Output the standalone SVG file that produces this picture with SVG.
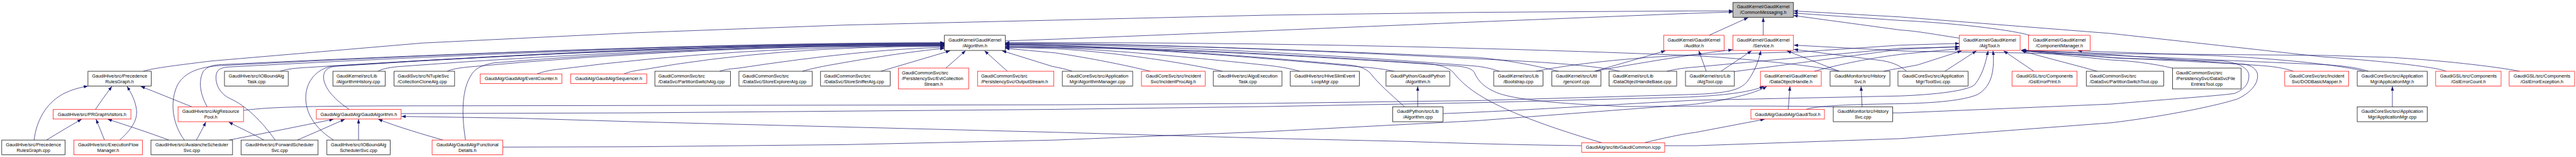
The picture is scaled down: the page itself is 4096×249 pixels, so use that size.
<svg xmlns="http://www.w3.org/2000/svg" width="4096" height="249" viewBox="0 0 4096 249">
<defs>
<style>
.n rect{fill:#fff;stroke:#000;stroke-width:1.3}
.n.r rect{stroke:#f00}
.n.g rect{fill:#bfbfbf}
text{font-family:"Liberation Sans",Arial,Helvetica,sans-serif;font-size:13.2px;fill:#000}
.m{text-anchor:middle}
.e path{fill:none;stroke:#191970;stroke-width:1.3;marker-end:url(#ah)}
</style>
<marker id="ah" markerUnits="userSpaceOnUse" viewBox="0 0 12 9" markerWidth="12" markerHeight="9" refX="12" refY="4.5" orient="auto"><path d="M0,0 L12,4.5 L0,9 z" fill="#191970"/></marker>
</defs>
<rect width="4096" height="249" fill="#fff"/>
<g transform="scale(0.5595)">
<g id="edges" class="e">
<path d="M271,310.5 C285,290 302,266 318,245"/>
<path d="M97,397 C103,345 128,295 178,267 C205,253 228,248 250,244"/>
<path d="M132,397 C165,377 200,356 232,338"/>
<path d="M297,397 C290,380 282,360 273,338"/>
<path d="M340,397 C365,375 392,345 388,312 C385,285 372,262 361,245"/>
<path d="M480,397 C420,375 360,355 306,338"/>
<path d="M546,303 C500,285 445,262 400,245"/>
<path d="M558,397 C568,380 577,362 585,346"/>
<path d="M750,397 C720,380 680,362 650,346"/>
<path d="M651,397 C750,378 850,358 948,338"/>
<path d="M845,397 C890,378 935,358 980,338"/>
<path d="M1019,397 L1019,338"/>
<path d="M1259,397 C1210,383 1130,360 1075,338"/>
<path d="M524,397 C492,355 480,290 505,240 C525,205 565,190 625,186 Q1900,121 2684,121"/>
<path d="M589,303 C570,270 562,230 578,202 C590,188 605,184 630,183 Q1900,122 2684,122"/>
<path d="M782,397 C745,345 700,300 655,280 C625,266 612,240 614,215 C616,198 625,192 648,190 Q1900,123 2684,123"/>
<path d="M948,397 C905,370 870,330 869,280 C868,240 890,200 940,188 Q1900,124 2684,124"/>
<path d="M993,310.5 C955,285 925,255 920,225 C918,205 925,192 952,188 Q1900,125 2684,125"/>
<path d="M796,202 C810,197 830,194 860,192 Q1900,126 2684,126"/>
<path d="M1074,202 C1085,196 1100,192 1130,189 Q1950,127 2684,127"/>
<path d="M1271,202 C1285,196 1300,193 1330,190 Q2000,128 2684,128"/>
<path d="M1323,397 C1312,330 1312,260 1335,220 C1345,200 1360,185 1406,178 Q2000,129 2684,129"/>
<path d="M1526,209.5 C1545,203 1560,199 1590,196 Q2100,130 2684,130"/>
<path d="M1773,209.5 C1790,203 1805,200 1830,197 Q2200,131 2684,131"/>
<path d="M2045,202 C2060,197 2075,195 2100,193 Q2450,140 2684,134"/>
<path d="M2280,202 C2300,196 2320,192 2350,186 Q2550,150 2684,137"/>
<path d="M2503,202 L2700,144"/>
<path d="M2688,193 L2744,144"/>
<path d="M2863,202 L2798,144"/>
<path d="M3047,202 C3030,196 3010,192 2990,188 L2848,144"/>
<path d="M3269,202 C3200,185 3100,165 3000,150 L2857,137"/>
<path d="M3474,202 C3400,185 3200,150 3000,138 L2857,134"/>
<path d="M3694,202 C3660,192 3620,187 3590,184 Q3100,132 2857,131"/>
<path d="M3962,202 C3930,195 3900,192 3870,190 Q3200,128 2857,128"/>
<path d="M3992,303 C3950,265 3915,235 3895,208 C3880,193 3860,186 3830,184 Q3200,127 2857,127"/>
<path d="M4261,202 C4240,195 4220,190 4190,187 Q3400,126 2857,126"/>
<path d="M4429,202 C4380,190 4300,172 4200,163 Q3300,123 2857,124"/>
<path d="M4603,202 C4550,190 4450,178 4200,167 Q3300,121 2857,123"/>
<path d="M4552,404.5 C4450,375 4330,335 4250,295 C4180,260 4150,230 4130,205 C4115,190 4090,183 4050,180 Q3300,129 2857,132"/>
<path d="M5212,303 C5100,300 4900,300 4620,302 C4450,295 4320,285 4260,265 C4220,250 4200,230 4190,205 C4180,192 4160,188 4120,186 Q3300,130 2857,135"/>
<path d="M5227,202 C5150,185 4950,165 4800,157 Q3800,118 2857,121"/>
<path d="M2857,116 L3000,111 L3600,87 L4200,62 L4800,38 L4925,34"/>
<path d="M407,202 C430,195 460,190 600,173 L1200,122 L1800,93 L2400,71 L3000,57 L3600,43 L4200,35 L4800,31 L4925,31"/>
<path d="M4857,100 L4968,50"/>
<path d="M5011,100 L5011,50"/>
<path d="M5568,108 C5500,98 5450,88 5400,85 L5097,44"/>
<path d="M5768,100 C5700,80 5500,62 5400,58 L5097,37"/>
<path d="M6952,202 C6930,192 6800,175 6600,161 L6000,95 L5400,48 L5097,31"/>
<path d="M4532,202 L4733,144"/>
<path d="M4849,202 L4828,144"/>
<path d="M692,313 C760,304 850,300 1220,300 L3000,297 L3600,293 L4200,285 L4800,268 C4910,265 4945,255 4965,232 C4985,205 4998,175 5004,144"/>
<path d="M4532,202 C4650,180 4800,155 4924,141"/>
<path d="M4891,202 L4978,144"/>
<path d="M5227,202 L5078,144"/>
<path d="M5418,202 C5405,190 5385,178 5350,172 L5098,140"/>
<path d="M6731,202 C6700,192 6660,186 6600,183 L6000,157 L5741,150 L5420,145 L5098,128"/>
<path d="M4928,203 L5400,140 L5568,132"/>
<path d="M4365,202 C4450,185 4600,165 4820,155 L5120,147 L5400,128 L5568,123"/>
<path d="M4737,202 C4760,196 4790,192 4820,190 L5400,137 L5568,133"/>
<path d="M5156,202 C5200,190 5300,165 5420,152 L5568,138"/>
<path d="M5353,202 C5380,196 5420,190 5450,184 L5575,144"/>
<path d="M5527,202 L5617,144"/>
<path d="M5780,202 L5694,144"/>
<path d="M4101,322 C4300,315 4600,295 4820,284 L5400,272 C5500,268 5590,258 5612,240 C5632,215 5642,185 5650,144"/>
<path d="M5132,310.5 C5160,300 5250,296 5400,294 C5500,292 5580,285 5620,268 C5655,248 5670,210 5664,144"/>
<path d="M5960,202 C5900,185 5800,160 5745,144"/>
<path d="M6174,193 C6120,180 6050,172 6000,170 L5747,144"/>
<path d="M6518,202 C6490,193 6470,190 6440,187 L6000,155 L5746,143"/>
<path d="M7161,202 C7100,190 6950,172 6800,163 L6600,157 L6000,152 L5744,142"/>
<path d="M5379,320 L5400,320 L6000,295 C6150,282 6300,272 6350,265 C6380,253 6393,235 6391,210 C6385,190 6360,178 6316,173 L6020,165 L5745,143"/>
<path d="M4731,413 L4820,413 L5400,393 L6000,348 C6150,330 6300,300 6360,280 C6405,258 6420,230 6415,207 C6410,195 6400,185 6376,182 L6000,163 L5744,142"/>
<path d="M1140,322 L1800,320 L2400,315 L3000,310 L3600,302 L4200,291 L4800,275 C4900,270 4970,262 5013,245"/>
<path d="M1429,417 L1800,416 L2400,410 L3000,397 L3600,373 L4200,342 L4820,295 C4900,285 4990,265 5021,245"/>
<path d="M5082,310.5 L5087,245"/>
<path d="M4674,404.5 C4720,393 4780,380 4820,375 L5015,338"/>
<path d="M4495,413 C4350,411 4200,408 4000,401 L3600,392 L3000,375 L2400,360 L1800,345 L1470,335 L1141,330"/>
<path d="M4029,303 L4029,245"/>
<path d="M5292,303 L5289,245"/>
<path d="M6799,303 L6799,245"/>
<path d="M6720,202 C6650,185 6500,168 6300,158 L5905,144"/>
</g>
<g id="n_cm" class="n g"><rect x="4925" y="7" width="172" height="42"/><text class="m"><tspan x="5011" y="24">GaudiKernel/GaudiKernel</tspan><tspan x="5011" y="40">/CommonMessaging.h</tspan></text></g>
<g id="n_alg" class="n"><rect x="2684" y="100" width="173" height="43"/><text class="m"><tspan x="2770.5" y="117.5">GaudiKernel/GaudiKernel</tspan><tspan x="2770.5" y="133.5">/Algorithm.h</tspan></text></g>
<g id="n_aud" class="n r"><rect x="4728" y="100" width="172" height="43"/><text class="m"><tspan x="4814" y="117.5">GaudiKernel/GaudiKernel</tspan><tspan x="4814" y="133.5">/Auditor.h</tspan></text></g>
<g id="n_svc" class="n r"><rect x="4925" y="100" width="172" height="43"/><text class="m"><tspan x="5011" y="117.5">GaudiKernel/GaudiKernel</tspan><tspan x="5011" y="133.5">/Service.h</tspan></text></g>
<g id="n_at" class="n r"><rect x="5568" y="100" width="173" height="43"/><text class="m"><tspan x="5654.5" y="117.5">GaudiKernel/GaudiKernel</tspan><tspan x="5654.5" y="133.5">/AlgTool.h</tspan></text></g>
<g id="n_cmgr" class="n r"><rect x="5765" y="100" width="175" height="43"/><text class="m"><tspan x="5852.5" y="117.5">GaudiKernel/GaudiKernel</tspan><tspan x="5852.5" y="133.5">/ComponentManager.h</tspan></text></g>
<g id="n_prgh" class="n"><rect x="250" y="202" width="180" height="42"/><text class="m"><tspan x="340" y="219.5">GaudiHive/src/Precedence</tspan><tspan x="340" y="235.5">RulesGraph.h</tspan></text></g>
<g id="n_iobtask" class="n"><rect x="638" y="202" width="181" height="42"/><text class="m"><tspan x="728.5" y="219.5">GaudiHive/src/IOBoundAlg</tspan><tspan x="728.5" y="235.5">Task.cpp</tspan></text></g>
<g id="n_alghist" class="n"><rect x="946" y="202" width="149" height="42"/><text><tspan x="956" y="219.5">GaudiKernel/src/Lib</tspan><tspan x="956" y="235.5">/AlgorithmHistory.cpp</tspan></text></g>
<g id="n_collclone" class="n"><rect x="1120" y="202" width="172" height="42"/><text><tspan x="1130" y="219.5">GaudiSvc/src/NTupleSvc</tspan><tspan x="1130" y="235.5">/CollectionCloneAlg.cpp</tspan></text></g>
<g id="n_evtcounter" class="n r"><rect x="1365" y="209.5" width="232" height="27"/><text class="m" x="1481" y="227.5">GaudiAlg/GaudiAlg/EventCounter.h</text></g>
<g id="n_sequencer" class="n r"><rect x="1622" y="209.5" width="216" height="27"/><text class="m" x="1730" y="227.5">GaudiAlg/GaudiAlg/Sequencer.h</text></g>
<g id="n_psalg" class="n"><rect x="1861" y="202" width="215" height="42"/><text><tspan x="1871" y="219.5">GaudiCommonSvc/src</tspan><tspan x="1871" y="235.5">/DataSvc/PartitionSwitchAlg.cpp</tspan></text></g>
<g id="n_sealg" class="n"><rect x="2100" y="202" width="208" height="42"/><text><tspan x="2110" y="219.5">GaudiCommonSvc/src</tspan><tspan x="2110" y="235.5">/DataSvc/StoreExplorerAlg.cpp</tspan></text></g>
<g id="n_ssalg" class="n"><rect x="2332" y="202" width="198" height="42"/><text><tspan x="2342" y="219.5">GaudiCommonSvc/src</tspan><tspan x="2342" y="235.5">/DataSvc/StoreSnifferAlg.cpp</tspan></text></g>
<g id="n_evtcoll" class="n r"><rect x="2553" y="193" width="200" height="59"/><text><tspan x="2563" y="211">GaudiCommonSvc/src</tspan><tspan x="2563" y="227">/PersistencySvc/EvtCollection</tspan><tspan x="2653" y="243" text-anchor="middle">Stream.h</tspan></text></g>
<g id="n_outstream" class="n r"><rect x="2778" y="202" width="217" height="42"/><text><tspan x="2788" y="219.5">GaudiCommonSvc/src</tspan><tspan x="2788" y="235.5">/PersistencySvc/OutputStream.h</tspan></text></g>
<g id="n_algmgr" class="n"><rect x="3019" y="202" width="200" height="42"/><text class="m"><tspan x="3119" y="219.5">GaudiCoreSvc/src/Application</tspan><tspan x="3119" y="235.5">Mgr/AlgorithmManager.cpp</tspan></text></g>
<g id="n_incproc" class="n r"><rect x="3244" y="202" width="181" height="42"/><text class="m"><tspan x="3334.5" y="219.5">GaudiCoreSvc/src/Incident</tspan><tspan x="3334.5" y="235.5">Svc/IncidentProcAlg.h</tspan></text></g>
<g id="n_algoexec" class="n"><rect x="3448" y="202" width="195" height="42"/><text class="m"><tspan x="3545.5" y="219.5">GaudiHive/src/AlgoExecution</tspan><tspan x="3545.5" y="235.5">Task.cpp</tspan></text></g>
<g id="n_hiveslim" class="n"><rect x="3667" y="202" width="196" height="42"/><text class="m"><tspan x="3765" y="219.5">GaudiHive/src/HiveSlimEvent</tspan><tspan x="3765" y="235.5">LoopMgr.cpp</tspan></text></g>
<g id="n_gpyalgh" class="n"><rect x="3939" y="202" width="181" height="42"/><text class="m"><tspan x="4029.5" y="219.5">GaudiPython/GaudiPython</tspan><tspan x="4029.5" y="235.5">/Algorithm.h</tspan></text></g>
<g id="n_bootstrap" class="n"><rect x="4245" y="202" width="140" height="42"/><text class="m"><tspan x="4315" y="219.5">GaudiKernel/src/Lib</tspan><tspan x="4315" y="235.5">/Bootstrap.cpp</tspan></text></g>
<g id="n_genconf" class="n"><rect x="4410" y="202" width="140" height="42"/><text class="m"><tspan x="4480" y="219.5">GaudiKernel/src/Util</tspan><tspan x="4480" y="235.5">/genconf.cpp</tspan></text></g>
<g id="n_dohbase" class="n"><rect x="4573" y="202" width="192" height="42"/><text><tspan x="4583" y="219.5">GaudiKernel/src/Lib</tspan><tspan x="4583" y="235.5">/DataObjectHandleBase.cpp</tspan></text></g>
<g id="n_algtoolcpp" class="n"><rect x="4790" y="202" width="139" height="42"/><text class="m"><tspan x="4859.5" y="219.5">GaudiKernel/src/Lib</tspan><tspan x="4859.5" y="235.5">/AlgTool.cpp</tspan></text></g>
<g id="n_doh" class="n r"><rect x="5003" y="202" width="173" height="42"/><text class="m"><tspan x="5089.5" y="219.5">GaudiKernel/GaudiKernel</tspan><tspan x="5089.5" y="235.5">/DataObjectHandle.h</tspan></text></g>
<g id="n_histsvch" class="n"><rect x="5201" y="202" width="170" height="42"/><text class="m"><tspan x="5286" y="219.5">GaudiMonitor/src/History</tspan><tspan x="5286" y="235.5">Svc.h</tspan></text></g>
<g id="n_toolsvc" class="n"><rect x="5394" y="202" width="199" height="42"/><text class="m"><tspan x="5493.5" y="219.5">GaudiCoreSvc/src/Application</tspan><tspan x="5493.5" y="235.5">Mgr/ToolSvc.cpp</tspan></text></g>
<g id="n_gslprint" class="n r"><rect x="5718" y="202" width="185" height="42"/><text class="m"><tspan x="5810.5" y="219.5">GaudiGSL/src/Components</tspan><tspan x="5810.5" y="235.5">/GslErrorPrint.h</tspan></text></g>
<g id="n_pstool" class="n"><rect x="5929" y="202" width="220" height="42"/><text><tspan x="5939" y="219.5">GaudiCommonSvc/src</tspan><tspan x="5939" y="235.5">/DataSvc/PartitionSwitchTool.cpp</tspan></text></g>
<g id="n_dsfe" class="n"><rect x="6174" y="193" width="195" height="59"/><text><tspan x="6184" y="211">GaudiCommonSvc/src</tspan><tspan x="6184" y="227">/PersistencySvc/DataSvcFile</tspan><tspan x="6271.5" y="243" text-anchor="middle">EntriesTool.cpp</tspan></text></g>
<g id="n_dod" class="n r"><rect x="6493" y="202" width="182" height="42"/><text class="m"><tspan x="6584" y="219.5">GaudiCoreSvc/src/Incident</tspan><tspan x="6584" y="235.5">Svc/DODBasicMapper.h</tspan></text></g>
<g id="n_appmgrh" class="n"><rect x="6699" y="202" width="199" height="42"/><text class="m"><tspan x="6798.5" y="219.5">GaudiCoreSvc/src/Application</tspan><tspan x="6798.5" y="235.5">Mgr/ApplicationMgr.h</tspan></text></g>
<g id="n_gslcount" class="n r"><rect x="6922" y="202" width="186" height="42"/><text class="m"><tspan x="7015" y="219.5">GaudiGSL/src/Components</tspan><tspan x="7015" y="235.5">/GslErrorCount.h</tspan></text></g>
<g id="n_gslexc" class="n r"><rect x="7131" y="202" width="186" height="42"/><text class="m"><tspan x="7224" y="219.5">GaudiGSL/src/Components</tspan><tspan x="7224" y="235.5">/GslErrorException.h</tspan></text></g>
<g id="n_prgv" class="n r"><rect x="151" y="310.5" width="221" height="27"/><text class="m" x="261.5" y="328.5">GaudiHive/src/PRGraphVisitors.h</text></g>
<g id="n_arp" class="n r"><rect x="506" y="303" width="186" height="42"/><text class="m"><tspan x="599" y="320.5">GaudiHive/src/AlgResource</tspan><tspan x="599" y="336.5">Pool.h</tspan></text></g>
<g id="n_galg" class="n r"><rect x="899" y="310.5" width="241" height="27"/><text class="m" x="1019.5" y="328.5">GaudiAlg/GaudiAlg/GaudiAlgorithm.h</text></g>
<g id="n_gpyalgcpp" class="n"><rect x="3958" y="303" width="143" height="42"/><text class="m"><tspan x="4029.5" y="320.5">GaudiPython/src/Lib</tspan><tspan x="4029.5" y="336.5">/Algorithm.cpp</tspan></text></g>
<g id="n_gtool" class="n r"><rect x="4976" y="310.5" width="209" height="27"/><text class="m" x="5080.5" y="328.5">GaudiAlg/GaudiAlg/GaudiTool.h</text></g>
<g id="n_histsvccpp" class="n"><rect x="5210" y="303" width="169" height="42"/><text class="m"><tspan x="5294.5" y="320.5">GaudiMonitor/src/History</tspan><tspan x="5294.5" y="336.5">Svc.cpp</tspan></text></g>
<g id="n_appmgrcpp" class="n"><rect x="6699" y="303" width="199" height="42"/><text class="m"><tspan x="6798.5" y="320.5">GaudiCoreSvc/src/Application</tspan><tspan x="6798.5" y="336.5">Mgr/ApplicationMgr.cpp</tspan></text></g>
<g id="n_prgcpp" class="n"><rect x="5" y="397" width="180" height="42"/><text class="m"><tspan x="95" y="414.5">GaudiHive/src/Precedence</tspan><tspan x="95" y="430.5">RulesGraph.cpp</tspan></text></g>
<g id="n_efm" class="n r"><rect x="210" y="397" width="195" height="42"/><text class="m"><tspan x="307.5" y="414.5">GaudiHive/src/ExecutionFlow</tspan><tspan x="307.5" y="430.5">Manager.h</tspan></text></g>
<g id="n_aval" class="n"><rect x="429" y="397" width="232" height="42"/><text class="m"><tspan x="545" y="414.5">GaudiHive/src/AvalancheScheduler</tspan><tspan x="545" y="430.5">Svc.cpp</tspan></text></g>
<g id="n_fwd" class="n"><rect x="685" y="397" width="219" height="42"/><text class="m"><tspan x="794.5" y="414.5">GaudiHive/src/ForwardScheduler</tspan><tspan x="794.5" y="430.5">Svc.cpp</tspan></text></g>
<g id="n_iobsched" class="n"><rect x="929" y="397" width="180" height="42"/><text class="m"><tspan x="1019" y="414.5">GaudiHive/src/IOBoundAlg</tspan><tspan x="1019" y="430.5">SchedulerSvc.cpp</tspan></text></g>
<g id="n_funcdet" class="n r"><rect x="1228" y="397" width="201" height="42"/><text class="m"><tspan x="1328.5" y="414.5">GaudiAlg/GaudiAlg/Functional</tspan><tspan x="1328.5" y="430.5">Details.h</tspan></text></g>
<g id="n_gcicpp" class="n r"><rect x="4495" y="404.5" width="236" height="27"/><text class="m" x="4613" y="422.5">GaudiAlg/src/lib/GaudiCommon.icpp</text></g>
</g>
</svg>
